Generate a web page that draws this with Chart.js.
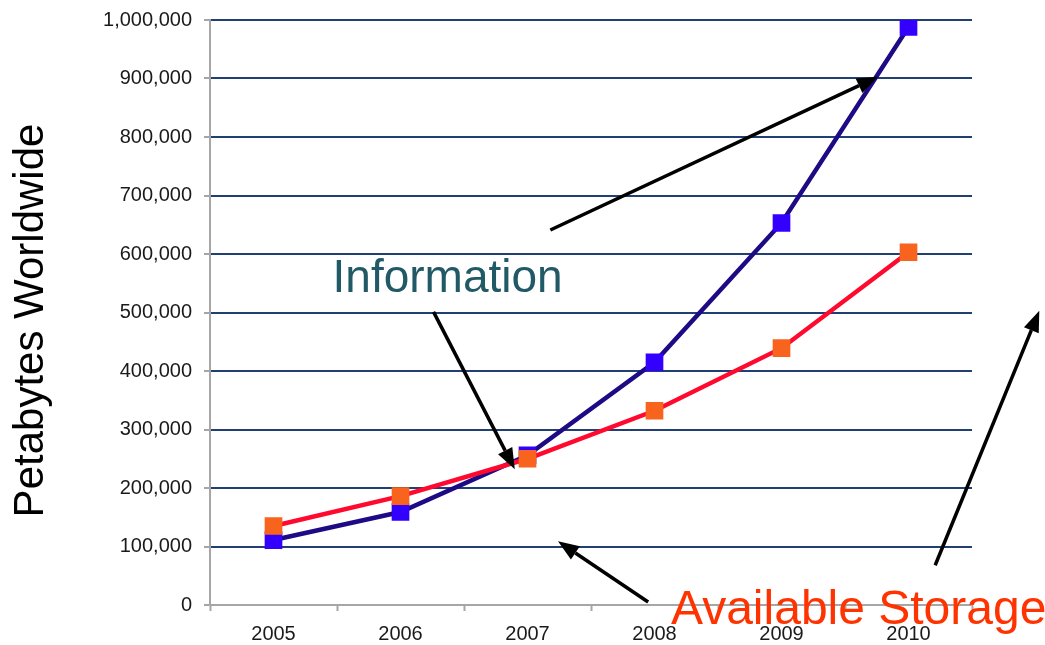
<!DOCTYPE html>
<html>
<head>
<meta charset="utf-8">
<script src="https://cdn.jsdelivr.net/npm/chart.js@4.4.1/dist/chart.umd.min.js"></script>
<style>
  html, body { margin: 0; padding: 0; background: #ffffff; }
  canvas { display: block; }
</style>
</head>
<body>
<canvas id="chart" width="1045" height="645"></canvas>
<script>
// Years on the horizontal axis
const years = ['2005', '2006', '2007', '2008', '2009', '2010'];

// Petabytes worldwide
const information = [111000, 159000, 256000, 415000, 653000, 988000];
const storage = [135000, 186000, 250000, 332000, 439000, 603000];

// Vertical axis range and step
const yMin = 0;
const yMax = 1000000;
const yStep = 100000;

const yTitle = 'Petabytes Worldwide';

// Callout texts, anchored in data space (category index, value)
const calloutTexts = [
  { text: 'Information', x: 0.465, y: 535000, color: '#215a66', size: 46 },
  { text: 'Available Storage', x: 3.13, y: -32000, color: '#ff3300', size: 48 }
];

// Callout arrows, tail -> head in data space
const calloutArrows = [
  { from: [2.18, 641000], to: [4.76, 903000] },
  { from: [1.26, 501000], to: [1.90, 232000] },
  { from: [2.95, 5000],   to: [2.24, 109000] },
  { from: [5.21, 68000],  to: [6.03, 503000] }
];

const FONT = "'Liberation Sans', Arial, Helvetica, sans-serif";
const AXIS_GREY = '#a6a6a6';
const GRID_NAVY = '#223f75';

function drawArrow(ctx, x1, y1, x2, y2) {
  const ang = Math.atan2(y2 - y1, x2 - x1);
  const headLen = 21, headHalf = 8;
  const bx = x2 - headLen * Math.cos(ang);
  const by = y2 - headLen * Math.sin(ang);
  ctx.beginPath();
  ctx.moveTo(x1, y1);
  ctx.lineTo(bx, by);
  ctx.lineWidth = 3.5;
  ctx.strokeStyle = '#000000';
  ctx.stroke();
  ctx.beginPath();
  ctx.moveTo(x2, y2);
  ctx.lineTo(bx + headHalf * Math.sin(ang), by - headHalf * Math.cos(ang));
  ctx.lineTo(bx - headHalf * Math.sin(ang), by + headHalf * Math.cos(ang));
  ctx.closePath();
  ctx.fillStyle = '#000000';
  ctx.fill();
}

const callouts = {
  id: 'callouts',
  afterDatasetsDraw(chart) {
    const { ctx, scales: { x, y } } = chart;
    ctx.save();
    calloutArrows.forEach(a => {
      drawArrow(ctx,
        x.getPixelForValue(a.from[0]), y.getPixelForValue(a.from[1]),
        x.getPixelForValue(a.to[0]), y.getPixelForValue(a.to[1]));
    });
    ctx.restore();
  },
  afterDraw(chart) {
    const { ctx, scales: { x, y } } = chart;
    ctx.save();
    // rotated axis title, slightly below the plot's mid-height
    ctx.translate(31, (y.top + y.bottom) / 2 + 8);
    ctx.rotate(-Math.PI / 2);
    ctx.font = '42px ' + FONT;
    ctx.fillStyle = '#000000';
    ctx.textAlign = 'center';
    ctx.textBaseline = 'middle';
    ctx.fillText(yTitle, 0, 0);
    ctx.restore();

    ctx.save();
    ctx.textAlign = 'left';
    ctx.textBaseline = 'alphabetic';
    calloutTexts.forEach(t => {
      ctx.font = t.size + 'px ' + FONT;
      ctx.fillStyle = t.color;
      ctx.fillText(t.text, x.getPixelForValue(t.x), y.getPixelForValue(t.y));
    });
    ctx.restore();
  }
};

new Chart(document.getElementById('chart'), {
  type: 'line',
  data: {
    labels: years,
    datasets: [
      {
        label: 'Available Storage',
        data: storage,
        borderColor: '#ff0a2e',
        backgroundColor: '#f8641e',
        borderWidth: 4.5,
        pointStyle: 'rect',
        pointRadius: 12.5,
        pointBorderWidth: 0,
        pointBackgroundColor: '#f8641e',
        tension: 0,
        order: 0
      },
      {
        label: 'Information',
        data: information,
        borderColor: '#1f0a86',
        backgroundColor: '#3300ff',
        borderWidth: 4.5,
        pointStyle: 'rect',
        pointRadius: 12.5,
        pointBorderWidth: 0,
        pointBackgroundColor: '#3300ff',
        tension: 0,
        order: 1
      }
    ]
  },
  options: {
    responsive: false,
    animation: false,
    layout: { padding: { left: 0, top: 20, right: 73, bottom: 0 } },
    plugins: {
      legend: { display: false },
      tooltip: { enabled: false }
    },
    scales: {
      x: {
        offset: true,
        grid: {
          display: true,
          drawOnChartArea: false,
          offset: true,
          tickLength: 6,
          tickColor: AXIS_GREY,
          tickWidth: 2
        },
        border: { display: true, color: AXIS_GREY, width: 2 },
        ticks: {
          color: '#1a1a1a',
          padding: 11,
          font: { family: FONT, size: 20 },
          maxRotation: 0
        },
        afterFit(scale) { scale.height = 40; }
      },
      y: {
        min: yMin,
        max: yMax,
        ticks: {
          stepSize: yStep,
          color: '#1a1a1a',
          padding: 12,
          font: { family: FONT, size: 20 },
          callback: v => v.toLocaleString('en-US')
        },
        grid: {
          color: ctx => (ctx.tick && ctx.tick.value === 0) ? AXIS_GREY : GRID_NAVY,
          lineWidth: 2,
          tickLength: 6,
          tickColor: AXIS_GREY,
          tickWidth: 2
        },
        border: { display: true, color: AXIS_GREY, width: 2 },
        title: { display: false },
        afterFit(scale) {
          scale.width = 210;
          scale.paddingTop = 0;
          scale.paddingBottom = 0;
        }
      }
    }
  },
  plugins: [callouts]
});
</script>
</body>
</html>
